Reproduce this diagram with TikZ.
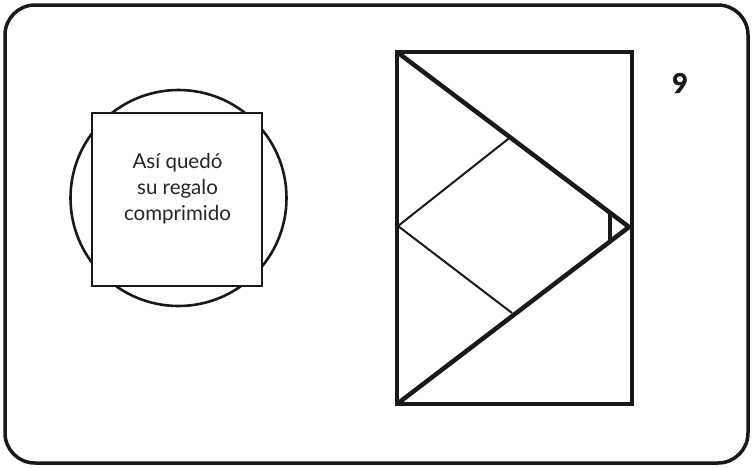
\documentclass[tikz,border=0pt]{standalone}
\usepackage{fontspec}
\setmainfont{Lato}
\newfontfamily\heavyfont{Lato}[BoldFeatures={FakeBold=2}]
\begin{document}
\begin{tikzpicture}[x=1pt,y=-1pt,
  frame/.style={draw=black!90,line width=3.5pt,rounded corners=30pt},
  thickline/.style={draw=black!90,line width=4.5pt,line join=miter},
  thinline/.style={draw=black!90,line width=2pt},
  shapeline/.style={draw=black!90,line width=2.6pt},
  lbl/.style={font=\fontsize{20.5}{26}\selectfont,align=center,text=black!85}]
\useasboundingbox (0,0) rectangle (753,467);
\draw[frame] (5,5) rectangle (748,463);
% left figure
\node[circle,shapeline,minimum size=216pt,inner sep=0pt] (circ) at (178.5,198) {};
\node[shapeline,fill=white,minimum width=170pt,minimum height=173pt,inner sep=0pt] (sq) at (177,199.5) {};
\node[lbl] (txt) at (177.5,189) {Así quedó\\su regalo\\comprimido};
% right figure
\coordinate (tl) at (397,52);
\coordinate (bl) at (397,404);
\coordinate (tr) at (632,52);
\coordinate (br) at (632,404);
\coordinate (apex) at (629,227);
\coordinate (lm) at (398,226);
\coordinate (rt) at (510,137.5);
\coordinate (rb) at (512,313);
\coordinate (mt) at (610,212);
\coordinate (mb) at (610,242);
\draw[thinline] (rt) -- (lm) -- (rb);
\draw[thickline] (tl) -- (apex) -- (bl);
\draw[draw=black!90,line width=4pt] (mt) -- (mb);
\draw[thickline] (tl) -- (tr) -- (br) -- (bl) -- cycle;
\node[font=\fontsize{27}{32}\heavyfont\bfseries,text=black!90] (num) at (680,83) {9};
\end{tikzpicture}
\end{document}
